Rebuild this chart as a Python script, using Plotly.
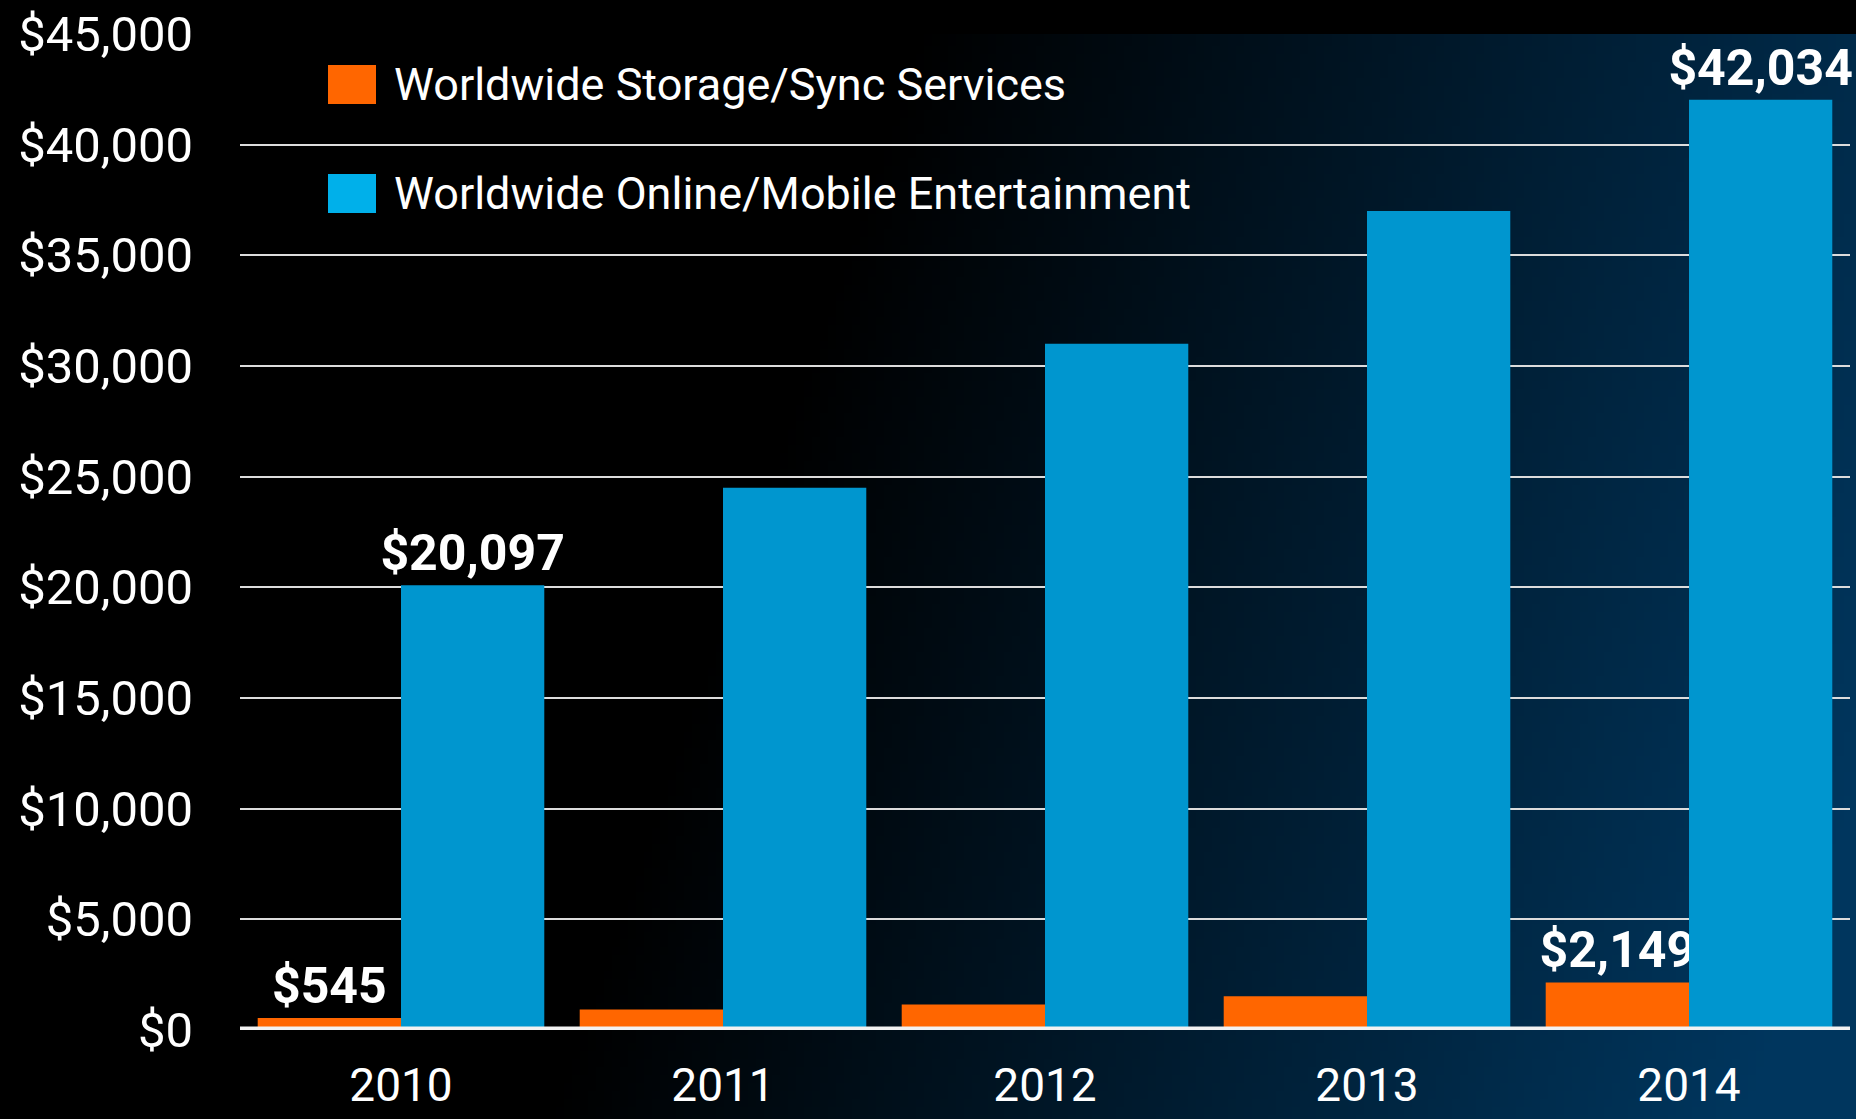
import base64
import struct
import zlib

import numpy as np
import plotly.graph_objects as go

# ---------------- data ----------------
years = ["2010", "2011", "2012", "2013", "2014"]
storage_sync = [545, 930, 1150, 1520, 2149]          # Worldwide Storage/Sync Services
online_mobile = [20097, 24500, 31000, 37000, 42034]  # Worldwide Online/Mobile Entertainment
series_names = ["Worldwide Storage/Sync Services", "Worldwide Online/Mobile Entertainment"]
y_tick_values = [0, 5000, 10000, 15000, 20000, 25000, 30000, 35000, 40000, 45000]

# labels only on first and last year, as in the original
def edge_labels(vals):
    return [f"${v:,}" if i in (0, len(vals) - 1) else "" for i, v in enumerate(vals)]

storage_text = edge_labels(storage_sync)
online_text = edge_labels(online_mobile)

# ---------------- style ----------------
W, H = 1856, 1119
ML, MR, MT, MB = 240, 6, 34, 89
PW, PH = W - ML - MR, H - MT - MB
FONT = "Roboto, 'Liberation Sans', Arial, sans-serif"
ORANGE = "#ff6600"
BLUE = "#0096cf"
BLUE_LEGEND = "#00b0ea"


# ---------------- background gradient (decoration) ----------------
def gradient_png(w, h):
    xs = (np.arange(w) + 0.5) / w
    ys = (np.arange(h) + 0.5) / h
    u = xs[None, :]
    # image spans canvas rows MT..H
    v = (MT + ys[:, None] * (H - MT)) / H
    lvl = np.clip(1.55 * (u - 0.5) + 0.32 * v, 0, 1)
    r = np.zeros_like(lvl)
    g = 0x36 * lvl
    b = 0x5e * lvl
    img = np.stack([r, g, b], axis=-1).round().astype(np.uint8)
    raw = b"".join(b"\x00" + img[i].tobytes() for i in range(h))

    def chunk(tag, data):
        c = struct.pack(">I", len(data)) + tag + data
        return c + struct.pack(">I", zlib.crc32(tag + data) & 0xFFFFFFFF)

    png = b"\x89PNG\r\n\x1a\n"
    png += chunk(b"IHDR", struct.pack(">IIBBBBB", w, h, 8, 2, 0, 0, 0))
    png += chunk(b"IDAT", zlib.compress(raw, 9))
    png += chunk(b"IEND", b"")
    return "data:image/png;base64," + base64.b64encode(png).decode()


bg_src = gradient_png(232, 136)

# ---------------- figure ----------------
fig = go.Figure()
fig.add_trace(go.Bar(
    x=years, y=storage_sync, name=series_names[0],
    marker=dict(color=ORANGE, line=dict(width=0)),
    text=storage_text, textposition="outside", constraintext="none",
    textfont=dict(family=FONT, size=50, color="white", weight="bold"),
    cliponaxis=False,
))
fig.add_trace(go.Bar(
    x=years, y=online_mobile, name=series_names[1],
    marker=dict(color=BLUE, line=dict(width=0)),
    text=online_text, textposition="outside", constraintext="none",
    textfont=dict(family=FONT, size=50, color="white", weight="bold"),
    cliponaxis=False,
))


def px_x(px):
    return (px - ML) / PW


def px_y(py):
    return (H - MB - py) / PH


shapes = [
    # thick white baseline above bars
    dict(type="line", xref="paper", yref="y", x0=0, x1=1, y0=0, y1=0,
         line=dict(color="#f2f2f2", width=7), layer="above"),
    # legend swatches
    dict(type="rect", xref="paper", yref="paper",
         x0=px_x(328), x1=px_x(376), y0=px_y(104), y1=px_y(65),
         fillcolor=ORANGE, line=dict(width=0), layer="above"),
    dict(type="rect", xref="paper", yref="paper",
         x0=px_x(328), x1=px_x(376), y0=px_y(213), y1=px_y(174),
         fillcolor=BLUE_LEGEND, line=dict(width=0), layer="above"),
]

annotations = [
    dict(xref="paper", yref="paper", x=px_x(392), y=px_y(85), xanchor="left",
         yanchor="middle", text=series_names[0], showarrow=False,
         font=dict(family=FONT, size=45, color="white")),
    dict(xref="paper", yref="paper", x=px_x(392), y=px_y(193), xanchor="left",
         yanchor="middle", text=series_names[1], showarrow=False,
         font=dict(family=FONT, size=45, color="white")),
]

fig.update_layout(
    width=W, height=H, autosize=False,
    margin=dict(l=ML, r=MR, t=MT, b=MB, pad=0, autoexpand=False),
    paper_bgcolor="#000000",
    plot_bgcolor="rgba(0,0,0,0)",
    barmode="group", bargap=0.11, bargroupgap=0,
    showlegend=False,
    font=dict(family=FONT, color="white"),
    shapes=shapes,
    annotations=annotations,
    images=[dict(source=bg_src, xref="paper", yref="paper",
                 x=-ML / PW, y=1, sizex=W / PW, sizey=(H - MT) / PH,
                 xanchor="left", yanchor="top", sizing="stretch", layer="below")],
    xaxis=dict(type="category", showgrid=False, zeroline=False, showline=False,
               automargin=False, ticks="", ticklabelstandoff=24,
               tickfont=dict(family=FONT, size=46, color="white")),
    yaxis=dict(range=[0, 45000], tickvals=y_tick_values, automargin=False,
               tickformat="$,d", showgrid=True, gridcolor="#dcdcdc", gridwidth=2,
               zeroline=False, showline=False, ticks="", ticklabelstandoff=46,
               tickfont=dict(family=FONT, size=49, color="white")),
)

fig.write_html(
    "out.html",
    config={"displayModeBar": False},
    post_script="document.body.style.margin='0';document.body.style.overflow='hidden';",
)
